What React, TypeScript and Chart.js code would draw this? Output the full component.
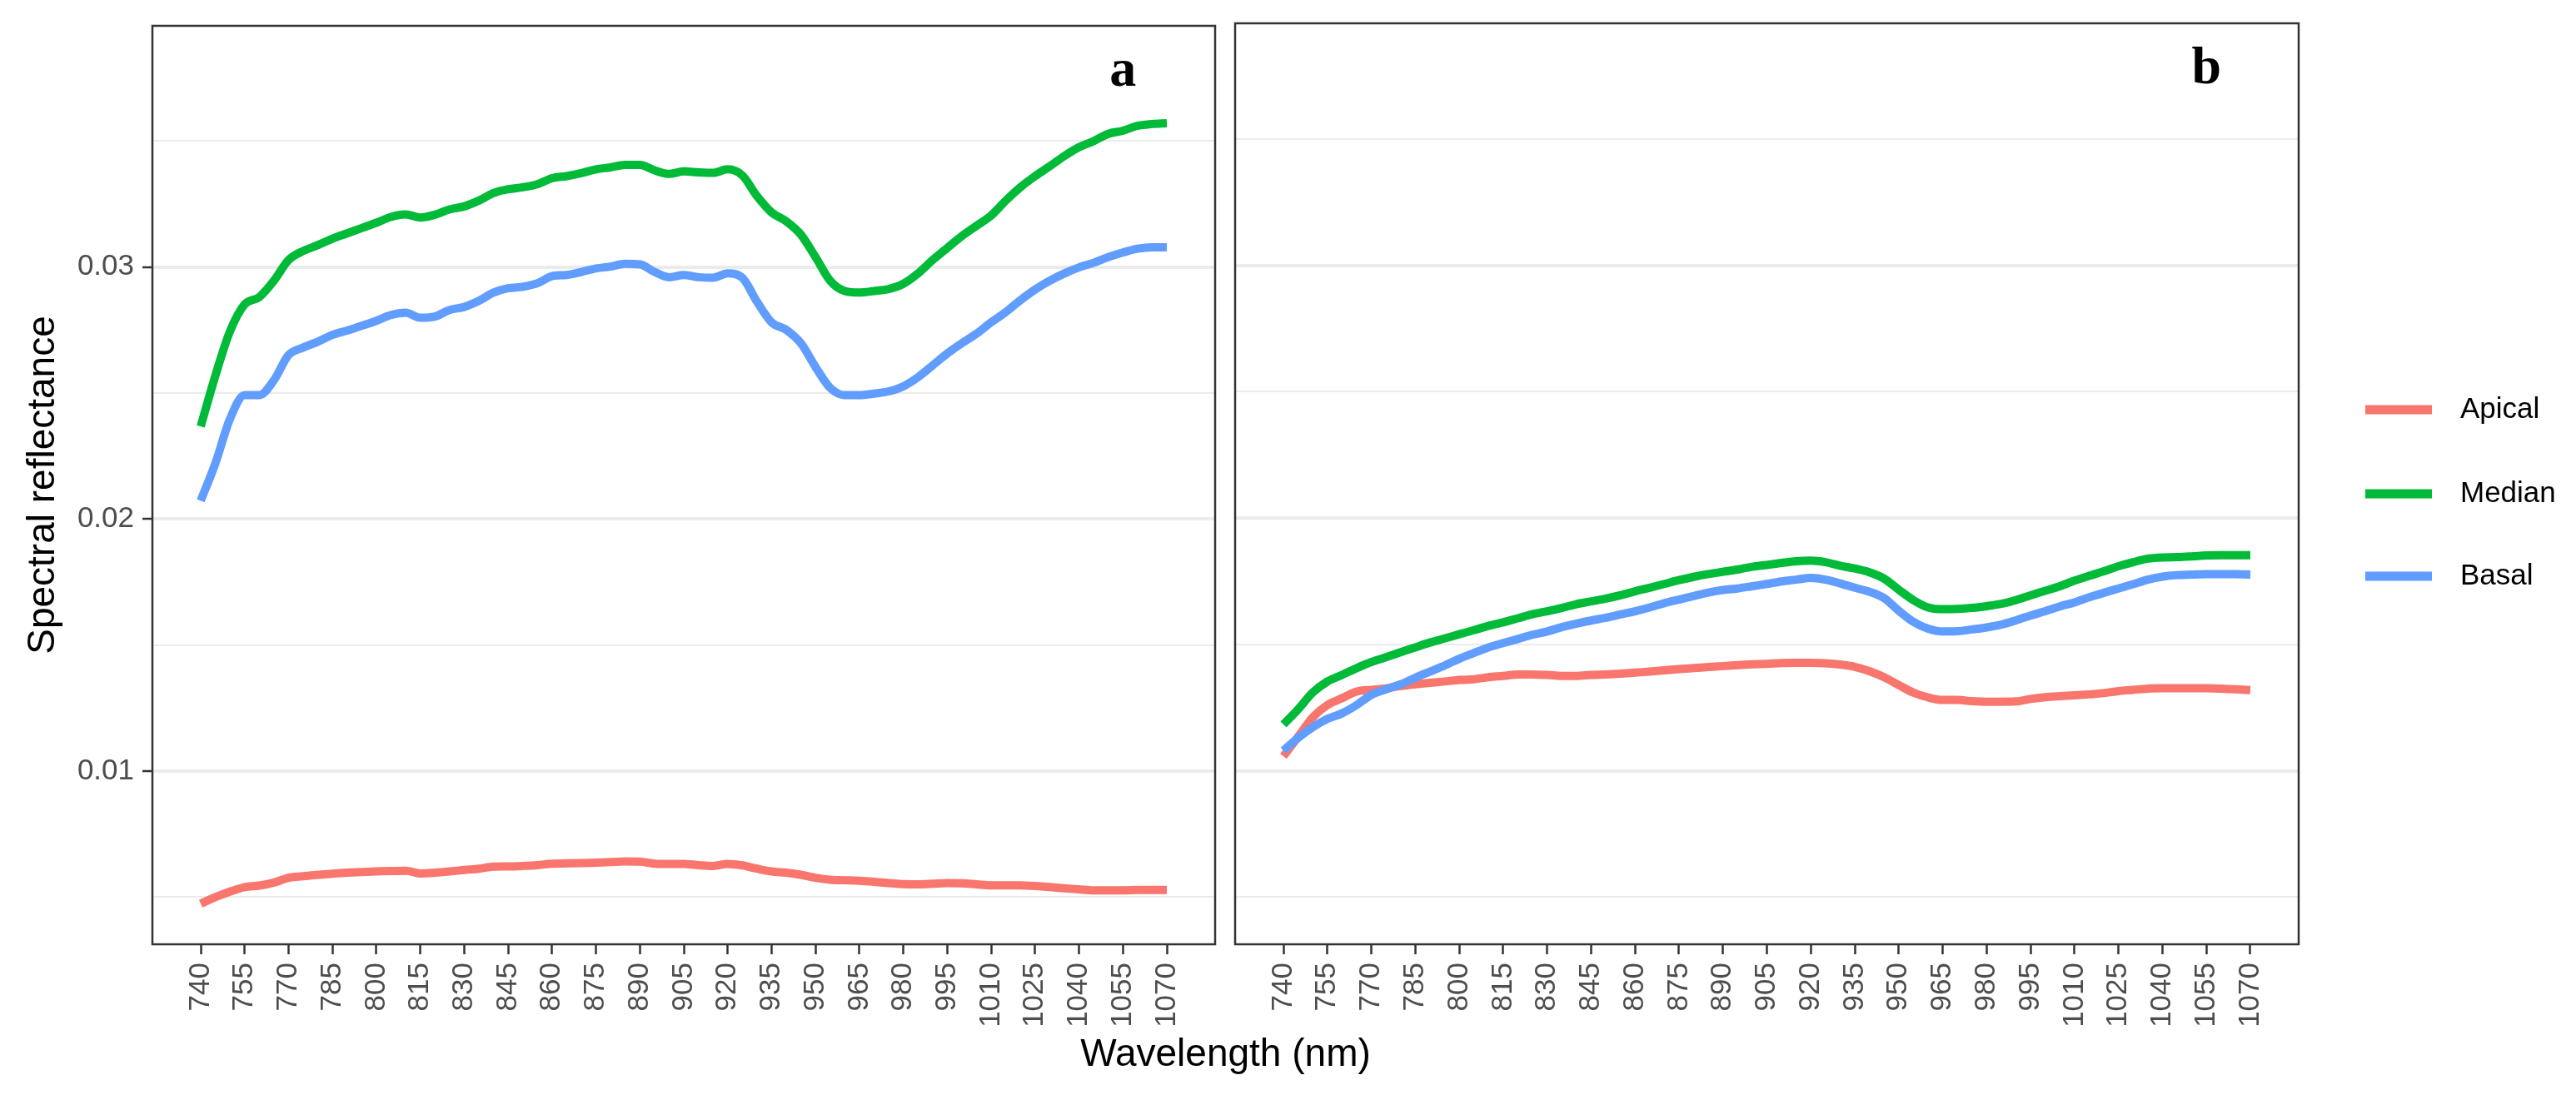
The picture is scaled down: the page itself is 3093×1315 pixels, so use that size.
import React, { useEffect, useRef } from "react";
import { Chart, registerables } from "chart.js";

Chart.register(...registerables);

// ---------------- data ----------------
const wavelengths = [
  740, 745, 750, 755, 760, 765, 770, 775, 780, 785, 790, 795, 800, 805, 810, 815, 820, 825, 830, 835,
  840, 845, 850, 855, 860, 865, 870, 875, 880, 885, 890, 895, 900, 905, 910, 915, 920, 925, 930, 935,
  940, 945, 950, 955, 960, 965, 970, 975, 980, 985, 990, 995, 1000, 1005, 1010, 1015, 1020, 1025, 1030,
  1035, 1040, 1045, 1050, 1055, 1060, 1065, 1070,
];

const xTickValues = [
  740, 755, 770, 785, 800, 815, 830, 845, 860, 875, 890, 905, 920, 935, 950, 965, 980, 995, 1010, 1025,
  1040, 1055, 1070,
];

const yGridValues = [0.005, 0.01, 0.015, 0.02, 0.025, 0.03, 0.035];
const yTickValues = [0.01, 0.02, 0.03];
const yTickLabels = ["0.01", "0.02", "0.03"];

const seriesNames = ["Apical", "Median", "Basal"];
const panelLetters = ["a", "b"];

// panel a
const aApical = [
  0.00474, 0.005, 0.00522, 0.0054, 0.00546, 0.00558, 0.00577, 0.00583, 0.00589, 0.00593, 0.00597, 0.006,
  0.00602, 0.00604, 0.00605, 0.00594, 0.00597, 0.00602, 0.00608, 0.00613, 0.00621, 0.00622, 0.00624,
  0.00627, 0.00633, 0.00634, 0.00635, 0.00637, 0.00639, 0.00642, 0.00641, 0.00633, 0.00632, 0.00632,
  0.00627, 0.00624, 0.00632, 0.00626, 0.00613, 0.00602, 0.00597, 0.00589, 0.00577, 0.00569, 0.00567,
  0.00565, 0.00561, 0.00556, 0.00552, 0.00551, 0.00553, 0.00556, 0.00555, 0.00551, 0.00547, 0.00547,
  0.00547, 0.00544, 0.0054, 0.00535, 0.00531, 0.00527, 0.00527, 0.00527, 0.00529, 0.00529, 0.00529,
];
const aMedian = [
  0.02368, 0.02569, 0.02745, 0.02852, 0.02881, 0.02946, 0.03028, 0.03064, 0.03087, 0.03113, 0.03134,
  0.03155, 0.03176, 0.03199, 0.03209, 0.03197, 0.03208, 0.03229, 0.03241, 0.03264, 0.03294, 0.03309,
  0.03317, 0.03329, 0.03353, 0.03361, 0.03373, 0.03388, 0.03396, 0.03406, 0.03406, 0.03384, 0.0337,
  0.0338, 0.03376, 0.03374, 0.03388, 0.03364, 0.03282, 0.03217, 0.03182, 0.03129, 0.0304, 0.02946,
  0.02905, 0.02899, 0.02905, 0.02913, 0.02934, 0.02975, 0.03028, 0.03076, 0.03123, 0.03164, 0.03205,
  0.03264, 0.03317, 0.03361, 0.034, 0.03441, 0.03476, 0.035, 0.03529, 0.03541, 0.03561, 0.03568, 0.03571,
];
const aBasal = [
  0.02073, 0.02221, 0.02398, 0.02492, 0.02492, 0.02551, 0.02651, 0.02681, 0.02704, 0.02731, 0.02748,
  0.02767, 0.02787, 0.0281, 0.02819, 0.02799, 0.02804, 0.0283, 0.02842, 0.02866, 0.02899, 0.02916,
  0.02922, 0.02936, 0.02964, 0.02969, 0.02981, 0.02995, 0.03002, 0.03013, 0.03011, 0.02981, 0.0296,
  0.02969, 0.0296, 0.02958, 0.02975, 0.02958, 0.02863, 0.02781, 0.02751, 0.02698, 0.02604, 0.02521,
  0.02492, 0.02492, 0.02498, 0.02507, 0.02527, 0.02563, 0.0261, 0.02657, 0.02698, 0.02736, 0.02781,
  0.02822, 0.02869, 0.02911, 0.02946, 0.02975, 0.02999, 0.03017, 0.0304, 0.03058, 0.03073, 0.03079, 0.03079,
];

// panel b
const bApical = [
  0.01057, 0.01134, 0.01211, 0.0126, 0.01287, 0.01313, 0.0132, 0.01326, 0.01335, 0.01342, 0.01348,
  0.01353, 0.01359, 0.01362, 0.0137, 0.01375, 0.01381, 0.01381, 0.01379, 0.01375, 0.01375, 0.01379,
  0.01381, 0.01384, 0.01388, 0.01392, 0.01397, 0.01402, 0.01406, 0.0141, 0.01414, 0.01418, 0.01421,
  0.01423, 0.01426, 0.01427, 0.01427, 0.01425, 0.0142, 0.01411, 0.01394, 0.0137, 0.01339, 0.01309,
  0.0129, 0.0128, 0.0128, 0.01275, 0.01273, 0.01273, 0.01274, 0.01284, 0.01291, 0.01295, 0.01298,
  0.01302, 0.01307, 0.01315, 0.0132, 0.01325, 0.01326, 0.01326, 0.01326, 0.01326, 0.01325, 0.01322, 0.01319,
];
const bMedian = [
  0.01183, 0.01243, 0.01309, 0.01353, 0.01379, 0.01406, 0.0143, 0.01449, 0.01469, 0.01488, 0.01507,
  0.01523, 0.0154, 0.01556, 0.01573, 0.01587, 0.01603, 0.01619, 0.01631, 0.01644, 0.01659, 0.0167,
  0.01681, 0.01694, 0.0171, 0.01724, 0.01739, 0.01754, 0.01767, 0.01778, 0.01787, 0.01796, 0.01807,
  0.01814, 0.01822, 0.01829, 0.01831, 0.01825, 0.01811, 0.018, 0.01785, 0.0176, 0.01716, 0.01675,
  0.01646, 0.01639, 0.0164, 0.01644, 0.01651, 0.0166, 0.01675, 0.01694, 0.01712, 0.0173, 0.01752,
  0.01771, 0.01789, 0.01809, 0.01825, 0.01839, 0.01844, 0.01845, 0.01848, 0.01852, 0.01853, 0.01853, 0.01853,
];
const bBasal = [
  0.01079, 0.0113, 0.01172, 0.01205, 0.01227, 0.0126, 0.013, 0.01322, 0.01342, 0.01368, 0.01392,
  0.01416, 0.01443, 0.01466, 0.01488, 0.01505, 0.01521, 0.01538, 0.01551, 0.01568, 0.01582, 0.01594,
  0.01605, 0.01618, 0.01631, 0.01646, 0.01663, 0.01677, 0.01691, 0.01705, 0.01715, 0.01721, 0.0173,
  0.01739, 0.01749, 0.01756, 0.01763, 0.01756, 0.01741, 0.01724, 0.01708, 0.01683, 0.01633, 0.01589,
  0.01562, 0.01551, 0.01552, 0.01559, 0.01567, 0.01578, 0.01595, 0.01614, 0.01631, 0.0165, 0.01666,
  0.01686, 0.01704, 0.01721, 0.01738, 0.01756, 0.01768, 0.01774, 0.01776, 0.01778, 0.01778, 0.01778, 0.01776,
];

// ---------------- layout / style ----------------
const W = 3093;
const H = 1315;
const SANS = "'Liberation Sans', Arial, Helvetica, sans-serif";
const SERIF = "'Liberation Serif', 'Times New Roman', Times, serif";
const COLORS = ["#F8766D", "#00BA38", "#619CFF"];
const PANEL_TOP = 28;
const PANEL_BOTTOM = 1134;
const PANELS = [
  { left: 183, right: 1459 },
  { left: 1483, right: 2760 },
];

const isMajor = (v: number) => yTickValues.some((t) => Math.abs(t - v) < 1e-9);

const decorPlugin = {
  id: "decor",
  afterDatasetsDraw(chart: any, _args: any, opts: any) {
    const { ctx, chartArea: a } = chart;
    const xs = chart.scales.x;
    const ys = chart.scales.y;
    ctx.save();
    // panel border
    ctx.strokeStyle = "#333333";
    ctx.lineWidth = 2.5;
    ctx.strokeRect(a.left, a.top, a.right - a.left, a.bottom - a.top);
    // panel letter
    ctx.fillStyle = "#000000";
    ctx.font = `bold 64px ${SERIF}`;
    ctx.textAlign = "center";
    ctx.textBaseline = "alphabetic";
    ctx.fillText(opts.letter, xs.getPixelForValue(1055), ys.getPixelForValue(0.0372));
    // shared x-axis title
    if (opts.xTitle) {
      ctx.font = `46px ${SANS}`;
      ctx.fillStyle = "#000000";
      ctx.textAlign = "center";
      ctx.textBaseline = "alphabetic";
      ctx.fillText(opts.xTitle, (PANELS[0].left + PANELS[1].right) / 2, 1280);
    }
    // legend
    if (opts.legend) {
      const rows = [492, 593, 692];
      chart.data.datasets.forEach((ds: any, i: number) => {
        const y = rows[i];
        ctx.strokeStyle = ds.borderColor;
        ctx.lineWidth = 11;
        ctx.lineCap = "butt";
        ctx.beginPath();
        ctx.moveTo(2840, y);
        ctx.lineTo(2920, y);
        ctx.stroke();
        ctx.fillStyle = "#000000";
        ctx.font = `35px ${SANS}`;
        ctx.textAlign = "left";
        ctx.textBaseline = "middle";
        ctx.fillText(ds.label, 2954, y);
      });
    }
    ctx.restore();
  },
};

function makeConfig(panelIndex: number, series: number[][]): any {
  const isLeft = panelIndex === 0;
  const p = PANELS[panelIndex];
  return {
    type: "line",
    data: {
      datasets: seriesNames.map((name, i) => ({
        label: name,
        data: wavelengths.map((w, j) => ({ x: w, y: series[i][j] })),
        borderColor: COLORS[i],
        backgroundColor: COLORS[i],
        borderWidth: 10,
        pointRadius: 0,
        pointHoverRadius: 0,
        fill: false,
        cubicInterpolationMode: "monotone",
        borderJoinStyle: "round",
        borderCapStyle: "butt",
        order: 2 - i,
      })),
    },
    options: {
      responsive: false,
      animation: false,
      devicePixelRatio: 1,
      events: [],
      layout: {
        padding: {
          left: isLeft ? 0 : p.left,
          right: W - p.right,
          top: PANEL_TOP,
          bottom: 0,
        },
      },
      plugins: {
        legend: { display: false },
        tooltip: { enabled: false },
        decor: {
          letter: panelLetters[panelIndex],
          xTitle: isLeft ? "Wavelength (nm)" : null,
          legend: !isLeft,
        },
      },
      scales: {
        x: {
          type: "linear",
          min: 723.5,
          max: 1086.5,
          afterBuildTicks: (s: any) => {
            s.ticks = xTickValues.map((v) => ({ value: v }));
          },
          afterFit: (s: any) => {
            s.height = H - PANEL_BOTTOM;
          },
          border: { display: false },
          grid: {
            drawOnChartArea: false,
            drawTicks: true,
            tickLength: 12,
            tickWidth: 2.5,
            tickColor: "#333333",
            color: "#333333",
          },
          ticks: {
            autoSkip: false,
            maxRotation: 90,
            minRotation: 90,
            padding: 10,
            color: "#4D4D4D",
            font: { family: SANS, size: 35 },
            callback: (v: any) => String(v),
          },
        },
        y: {
          type: "linear",
          min: 0.00313,
          max: 0.039575,
          afterBuildTicks: (s: any) => {
            s.ticks = yGridValues.map((v) => ({ value: v }));
          },
          afterFit: (s: any) => {
            s.width = isLeft ? p.left : 0;
          },
          border: { display: false },
          grid: {
            color: "#EBEBEB",
            lineWidth: (c: any) => (c.tick && isMajor(c.tick.value) ? 4 : 2),
            drawTicks: isLeft,
            tickLength: 12,
            tickWidth: 2.5,
            tickColor: (c: any) => (c.tick && isMajor(c.tick.value) ? "#333333" : "rgba(0,0,0,0)"),
          },
          ticks: {
            display: isLeft,
            padding: 10,
            color: "#4D4D4D",
            font: { family: SANS, size: 35 },
            callback: (v: any) => {
              const k = yTickValues.findIndex((t) => Math.abs(t - v) < 1e-9);
              return k >= 0 ? yTickLabels[k] : "";
            },
          },
          title: {
            display: isLeft,
            text: "Spectral reflectance",
            color: "#000000",
            font: { family: SANS, size: 46 },
            padding: { top: 25, bottom: 0 },
          },
        },
      },
    },
    plugins: [decorPlugin],
  };
}

export default function App() {
  const leftRef = useRef<HTMLCanvasElement | null>(null);
  const rightRef = useRef<HTMLCanvasElement | null>(null);

  useEffect(() => {
    const c1 = new Chart(leftRef.current as HTMLCanvasElement, makeConfig(0, [aApical, aMedian, aBasal]));
    const c2 = new Chart(rightRef.current as HTMLCanvasElement, makeConfig(1, [bApical, bMedian, bBasal]));
    return () => {
      c1.destroy();
      c2.destroy();
    };
  }, []);

  const canvasStyle: React.CSSProperties = {
    position: "absolute",
    left: 0,
    top: 0,
    width: W,
    height: H,
  };

  return (
    <div
      style={{
        position: "absolute",
        left: 0,
        top: 0,
        width: W,
        height: H,
        background: "#ffffff",
        overflow: "hidden",
      }}
    >
      <canvas ref={leftRef} width={W} height={H} style={canvasStyle} />
      <canvas ref={rightRef} width={W} height={H} style={canvasStyle} />
    </div>
  );
}
